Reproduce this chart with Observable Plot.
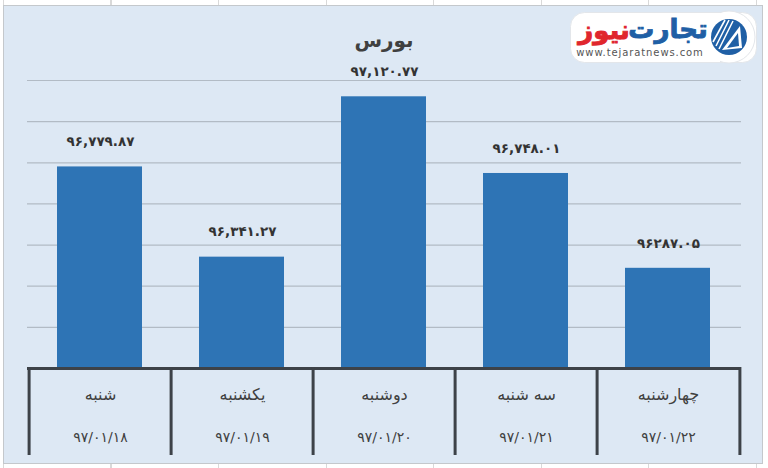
<!DOCTYPE html>
<html>
<head>
<meta charset="utf-8">
<script src="https://cdn.jsdelivr.net/npm/d3@7"></script>
<script src="https://cdn.jsdelivr.net/npm/@observablehq/plot@0.6"></script>
<style>
  html, body { margin: 0; padding: 0; background: #ffffff; }
  #wrap { position: relative; width: 768px; height: 468px; overflow: hidden;
    background-color: #ffffff;
    background-image:
      repeating-linear-gradient(to right, transparent 0, transparent 3px, #d9d9d9 3px, #d9d9d9 4px, transparent 4px, transparent 107.5px);
  }
  #panel { position: absolute; left: 3px; top: 5px; width: 760px; height: 459px;
    background: #dde8f4; border: 1px solid #c4c8cc; box-sizing: border-box; }
  #chart { position: absolute; left: 0; top: 0; }
  #title { position: absolute; left: 0; width: 768px; top: 28px; text-align: center;
    font-family: "DejaVu Sans", sans-serif; font-weight: bold; font-size: 20px; color: #404040; direction: rtl; }
  #logo { position: absolute; left: 570px; top: 8px; width: 192px; height: 58px; }
</style>
</head>
<body>
<div id="wrap">
  <div id="panel"></div>
  <div id="chart"></div>
  <div id="title">بورس</div>
  <svg id="logo" width="192" height="58" viewBox="0 0 192 58">
    <rect x="0.5" y="4.5" width="186" height="50" rx="14" fill="#ffffff" stroke="#e3e6ea"/>
    <circle cx="159" cy="29" r="26" fill="#ffffff" stroke="#e3e6ea"/>
    <rect x="120" y="5" width="30" height="49" fill="#ffffff"/>
    <circle cx="159" cy="29" r="18" fill="#1f5fa5"/>
    <g stroke="#ffffff" stroke-width="1.6">
      <line x1="143" y1="34" x2="155" y2="12"/>
      <line x1="146" y1="38" x2="159" y2="12"/>
      <line x1="149" y1="41" x2="163" y2="13"/>
    </g>
    <path d="M152 42 L170 18 L172 40 Z" fill="#ffffff"/>
    <path d="M157 40 L168 25 L169 38 Z" fill="#1f5fa5"/>
    <text x="98" y="30" text-anchor="middle" font-family="DejaVu Sans" font-weight="bold" font-size="26" fill="#1f5fa5" stroke="#1f5fa5" stroke-width="0.9" direction="rtl">تجارت</text>
    <text x="34" y="31" text-anchor="middle" font-family="DejaVu Sans" font-weight="bold" font-size="26" fill="#e0262d" stroke="#e0262d" stroke-width="0.9" direction="rtl">نیوز</text>
    <text x="70" y="48" text-anchor="middle" font-family="DejaVu Sans" font-size="10" fill="#555555" letter-spacing="0.9">www.tejaratnews.com</text>
  </svg>
</div>
<script>
const days = ["شنبه", "یکشنبه", "دوشنبه", "سه شنبه", "چهارشنبه"];
const dates = ["۹۷/۰۱/۱۸", "۹۷/۰۱/۱۹", "۹۷/۰۱/۲۰", "۹۷/۰۱/۲۱", "۹۷/۰۱/۲۲"];
const values = [96779.87, 96341.27, 97120.77, 96748.01, 96287.05];
const valueLabels = ["۹۶,۷۷۹.۸۷", "۹۶,۳۴۱.۲۷", "۹۷,۱۲۰.۷۷", "۹۶,۷۴۸.۰۱", "۹۶۲۸۷.۰۵"];
const yDomain = [95800, 97200];
const yTicks = [96000, 96200, 96400, 96600, 96800, 97000, 97200];

const data = days.map((d, i) => ({day: d, date: dates[i], value: values[i], label: valueLabels[i]}));

const W = 768, H = 468;
const mL = 27, mR = 27, mT = 80, mB = 100;
const bw = (W - mL - mR) / days.length;
const frameH = H - mT - mB;

const plot = Plot.plot({
  width: W, height: H,
  marginLeft: mL, marginRight: mR, marginTop: mT, marginBottom: mB,
  style: {background: "transparent", fontFamily: "DejaVu Sans, sans-serif", overflow: "visible"},
  x: {type: "band", domain: days, padding: 0, axis: null},
  y: {domain: yDomain, axis: null},
  marks: [
    Plot.ruleY(yTicks, {stroke: "#b2bbc5", strokeWidth: 1.2}),
    Plot.barY(data, {x: "day", y1: yDomain[0], y2: "value", fill: "#2e74b5", insetLeft: 28, insetRight: 29}),
    Plot.text(data, {x: "day", y: "value", text: "label", dy: -25, lineAnchor: "middle",
      fontSize: 13.5, fontWeight: "bold", fill: "#333333"}),
    Plot.ruleY([yDomain[0]], {stroke: "#3d4248", strokeWidth: 3}),
    Plot.ruleX(days, {x: d => d, dx: -bw / 2, insetTop: frameH - 1, insetBottom: -87, stroke: "#3d4248", strokeWidth: 3}),
    Plot.ruleX(days.slice(-1), {x: d => d, dx: bw / 2, insetTop: frameH - 1, insetBottom: -87, stroke: "#3d4248", strokeWidth: 3}),
    Plot.text(data, {x: "day", text: "day", frameAnchor: "bottom", dy: 26, lineAnchor: "middle",
      fontSize: 16, fill: "#404040"}),
    Plot.text(data, {x: "day", text: "date", frameAnchor: "bottom", dy: 69, lineAnchor: "middle",
      fontSize: 14, fill: "#404040"})
  ]
});
document.getElementById("chart").appendChild(plot);
</script>
</body>
</html>
